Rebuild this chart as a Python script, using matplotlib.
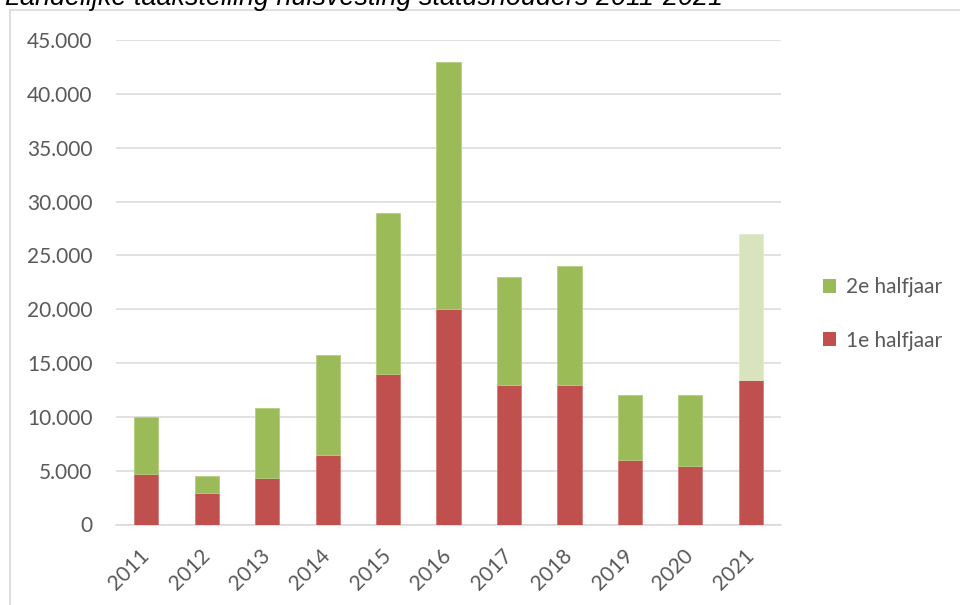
import matplotlib
matplotlib.use("Agg")
import matplotlib.pyplot as plt
import matplotlib.transforms as mtransforms
from matplotlib.lines import Line2D
from matplotlib.patches import Patch
from matplotlib.ticker import FuncFormatter, MultipleLocator

years = ["2011", "2012", "2013", "2014", "2015", "2016", "2017", "2018", "2019", "2020", "2021"]
first_half = [4650, 2950, 4350, 6450, 13950, 20000, 13000, 13000, 6000, 5450, 13450]
second_half = [5300, 1550, 6500, 9250, 14950, 22950, 9950, 11000, 6000, 6550, 13550]
title = "Landelijke taakstelling huisvesting statushouders 2011-2021"
legend_labels = ["2e halfjaar", "1e halfjaar"]

RED = "#C0504D"
GREEN = "#9BBB59"
LIGHT_GREEN = "#D7E4BD"
GRID = "#D9D9D9"
TXT = "#595959"

W, H = 960, 605
fig = plt.figure(figsize=(9.6, 6.05), dpi=100)
ax = fig.add_axes([116 / W, 1 - 524.5 / H, (781 - 116) / W, (524.5 - 40) / H])

x = list(range(len(years)))
green_colors = [GREEN] * (len(years) - 1) + [LIGHT_GREEN]
ax.bar(x, first_half, width=0.4, color=RED, edgecolor="#D27A78", linewidth=0.6, zorder=3)
ax.bar(x, second_half, width=0.4, bottom=first_half, color=green_colors,
       edgecolor=["#B4CD80"] * (len(years) - 1) + ["#E0EACB"], linewidth=0.6, zorder=3)

ax.set_xlim(-0.5, len(years) - 0.5)
ax.set_ylim(0, 45000)
ax.yaxis.set_major_locator(MultipleLocator(5000))
ax.yaxis.set_major_formatter(FuncFormatter(lambda v, p: f"{int(v):,}".replace(",", ".")))
ax.grid(axis="y", color=GRID, linewidth=1.1, zorder=0)
ax.set_axisbelow(True)
for s in ["top", "right", "left"]:
    ax.spines[s].set_visible(False)
ax.spines["bottom"].set_color(GRID)
ax.spines["bottom"].set_linewidth(1.1)
ax.tick_params(axis="both", length=0, colors=TXT, labelsize=15)
ax.tick_params(axis="y", pad=17)
ax.tick_params(axis="x", pad=15)
ax.set_xticks(x)
ax.set_xticklabels(years, rotation=45, ha="right", fontfamily="Lato", color=TXT)
offset = mtransforms.ScaledTranslation(7 / 100, 0, fig.dpi_scale_trans)
for lab in ax.get_xticklabels():
    lab.set_transform(lab.get_transform() + offset)
for lab in ax.get_yticklabels():
    lab.set_fontfamily("Lato")

handles = [Patch(facecolor=GREEN), Patch(facecolor=RED)]
leg = fig.legend(handles, legend_labels, loc="center left",
                 bbox_to_anchor=(804 / W, 1 - 314 / H), frameon=False,
                 prop={"family": "Lato", "size": 15}, handlelength=0.65, handleheight=0.65,
                 handletextpad=0.45, labelspacing=1.6)
for t in leg.get_texts():
    t.set_color(TXT)

# chart area border (top and left edges visible)
fig.add_artist(Line2D([10 / W, 10 / W], [1 - 10 / H, 0], color=GRID, linewidth=1.2,
                      transform=fig.transFigure))
fig.add_artist(Line2D([10 / W, 1], [1 - 10 / H, 1 - 10 / H], color=GRID, linewidth=1.2,
                      transform=fig.transFigure))

fig.text(5 / W, 1 - 5 / H, title, fontfamily="Liberation Sans", fontstyle="italic",
         fontsize=19.4, color="#000000", ha="left", va="baseline")

fig.savefig("out.png", dpi=100)
